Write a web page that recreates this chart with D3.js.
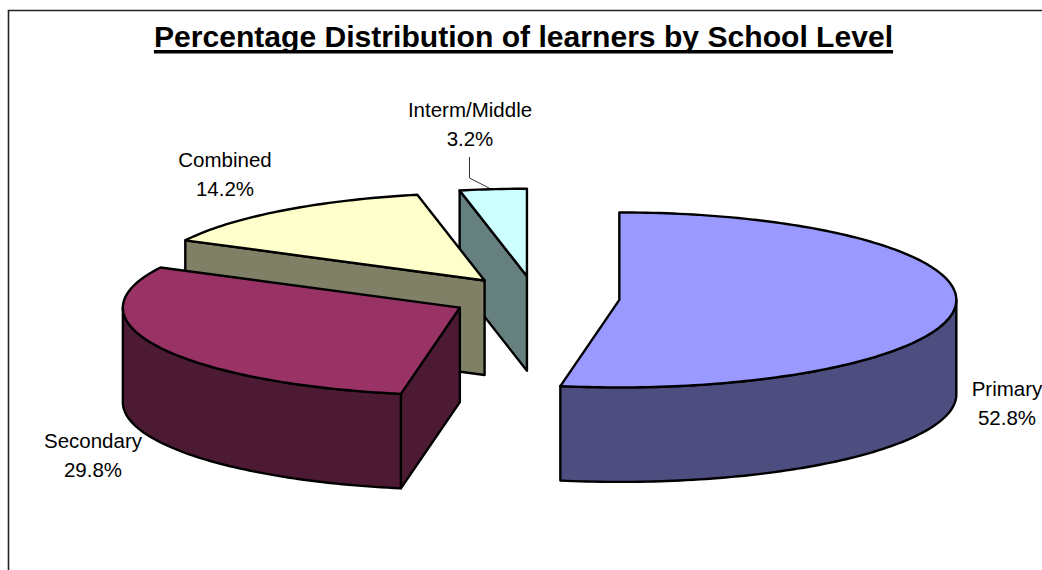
<!DOCTYPE html>
<html>
<head>
<meta charset="utf-8">
<style>
html,body{margin:0;padding:0;background:#fff;overflow:hidden}
text{font-family:"Liberation Sans",Arial,sans-serif;fill:#000}
</style>
<script src="https://cdn.jsdelivr.net/npm/d3@7/dist/d3.min.js"></script>
</head>
<body>
<svg id="chart" width="1042" height="570"></svg>
<script>
const categories = ["Primary", "Secondary", "Combined", "Interm/Middle"];
const shares = [52.8, 29.8, 14.2, 3.2];
const topColors = ["#9999FF", "#993366", "#FFFFCC", "#CCFFFF"];
const wallColors = ["#4D4D80", "#4D1A33", "#808066", "#668080"];
const labelCenters = [[1007, 396], [93, 448], [225, 167], [470, 117]];
const chartTitle = "Percentage Distribution of learners by School Level";

const W = 1042, H = 570;
const center = {x: 535.4, y: 298};
const radiusX = 337, radiusY = 87.5, depth = 94.5, explode = 0.25;
const lineGap = 29;

const svg = d3.select("#chart");
const sx = d3.scaleLinear().domain([-1, 1]).range([-radiusX, radiusX]);
const sy = d3.scaleLinear().domain([-1, 1]).range([-radiusY, radiusY]);

svg.append("path")
  .attr("d", `M8.5,${H}V10.5H${W}`)
  .attr("fill", "none").attr("stroke", "#222").attr("stroke-width", 1.6);

const arcs = d3.pie().value(d => d.value).sort(null)
  (categories.map((name, i) => ({name, value: shares[i]})));

const pt = (a, ox, oy, dz = 0) => [ox + sx(Math.sin(a)), oy - sy(Math.cos(a)) + dz];
const line = d3.line();
const samples = (a0, a1) => {
  const n = Math.max(2, Math.ceil((a1 - a0) / 0.02));
  return d3.range(n + 1).map(k => a0 + (a1 - a0) * k / n);
};
const Q1 = Math.PI / 2, Q3 = Math.PI * 1.5;

// painted back to front
[...arcs].reverse().forEach(s => {
  const i = s.index;
  const mid = (s.startAngle + s.endAngle) / 2;
  const ox = center.x + explode * sx(Math.sin(mid));
  const oy = center.y - explode * sy(Math.cos(mid));
  const g = svg.append("g").attr("class", "slice");
  const style = sel => sel.attr("stroke", "#000").attr("stroke-width", 2.4).attr("stroke-linejoin", "round");

  // cut face at the slice's start radius, visible when it faces the viewer
  if (Math.cos(s.startAngle - Q1) < -1e-6) {
    const p = pt(s.startAngle, ox, oy);
    g.append("path").call(style).attr("fill", wallColors[i])
      .attr("d", line([p, [ox, oy], [ox, oy + depth], [p[0], p[1] + depth]]) + "Z");
  }
  // outer wall on the front half of the ellipse
  const w0 = Math.max(s.startAngle, Q1), w1 = Math.min(s.endAngle, Q3);
  if (w1 > w0) {
    const a = samples(w0, w1);
    const upper = a.map(t => pt(t, ox, oy));
    const lower = a.slice().reverse().map(t => pt(t, ox, oy, depth));
    g.append("path").call(style).attr("fill", wallColors[i])
      .attr("d", line(upper.concat(lower)) + "Z");
  }
  // top face
  const rim = samples(s.startAngle, s.endAngle).map(t => pt(t, ox, oy));
  g.append("path").call(style).attr("fill", topColors[i])
    .attr("d", line([[ox, oy]].concat(rim)) + "Z");
});

// leader for the smallest slice
svg.append("path")
  .attr("d", "M469.5,157V178L489,188")
  .attr("fill", "none").attr("stroke", "#333").attr("stroke-width", 1);

// labels
arcs.forEach(s => {
  const [x, y] = labelCenters[s.index];
  const t = svg.append("text").attr("text-anchor", "middle").attr("font-size", 20.5);
  t.append("tspan").attr("x", x).attr("y", y).text(s.data.name);
  t.append("tspan").attr("x", x).attr("y", y + lineGap).text(d3.format(".1f")(s.data.value) + "%");
});

// title
const title = svg.append("text")
  .attr("x", 523.5).attr("y", 47)
  .attr("text-anchor", "middle").attr("font-size", 30.1).attr("font-weight", "bold")
  .text(chartTitle);
const tw = title.node().getComputedTextLength();
svg.append("rect").attr("x", 523.5 - tw / 2).attr("y", 50).attr("width", tw).attr("height", 3.5).attr("fill", "#000");
</script>
</body>
</html>
